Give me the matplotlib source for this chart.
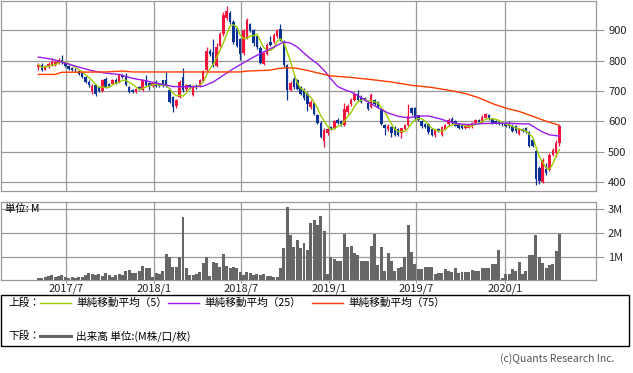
import numpy as np
import pandas as pd
import matplotlib
matplotlib.use('Agg')
import matplotlib.pyplot as plt
import matplotlib.dates as mdates
from matplotlib.patches import Rectangle
from matplotlib.lines import Line2D

plt.rcParams['font.family'] = ['Noto Sans CJK JP', 'DejaVu Sans']

# ---------------- data ----------------
dates = pd.date_range('2017-05-05', periods=156, freq='7D')

opens = [778, 787, 771, 780, 785, 786, 794, 802, 793, 782, 777, 770, 767, 760, 746, 731, 700, 719, 712, 700,
         740, 724, 725, 736, 730, 752, 748, 714, 702, 698, 712, 703, 736, 727, 718, 730, 724, 735, 738, 704,
         680, 650, 681, 745, 706, 720, 686, 718, 716, 734, 769, 832, 830, 782, 850, 887, 940, 957, 927, 908,
         870, 825, 876, 922, 900, 880, 842, 790, 823, 862, 862, 880, 905, 862, 785, 705, 740, 735, 712, 705,
         692, 646, 662, 622, 596, 535, 562, 583, 578, 605, 600, 588, 630, 658, 670, 689, 682, 676, 662, 648,
         670, 665, 640, 588, 576, 582, 580, 575, 562, 575, 588, 643, 643, 620, 602, 590, 590, 575, 555, 575,
         555, 575, 590, 608, 600, 590, 588, 578, 580, 583, 595, 605, 598, 612, 620, 608, 602, 598, 594, 594,
         596, 585, 585, 558, 574, 578, 566, 540, 502, 447, 400, 442, 440, 490, 497, 530]
highs = [792, 792, 785, 795, 810, 800, 808, 818, 797, 785, 780, 775, 770, 764, 750, 735, 722, 722, 716, 740,
         745, 728, 740, 742, 756, 755, 760, 718, 706, 710, 716, 740, 752, 730, 730, 735, 728, 738, 763, 710,
         684, 675, 735, 775, 725, 725, 720, 722, 740, 770, 845, 840, 870, 860, 895, 960, 980, 965, 935, 912,
         875, 905, 940, 925, 905, 885, 848, 828, 860, 880, 892, 905, 922, 868, 790, 732, 748, 740, 716, 710,
         697, 670, 665, 625, 600, 578, 580, 586, 604, 610, 605, 662, 658, 676, 697, 705, 688, 680, 666, 693,
         674, 668, 645, 592, 590, 585, 584, 578, 580, 592, 657, 648, 646, 622, 605, 594, 594, 578, 576, 580,
         585, 592, 610, 615, 604, 594, 592, 590, 592, 598, 608, 608, 620, 628, 625, 612, 605, 602, 598, 598,
         600, 590, 588, 577, 578, 582, 570, 545, 505, 452, 480, 464, 495, 512, 540, 588]
lows = [770, 765, 768, 776, 782, 784, 790, 790, 778, 770, 766, 762, 752, 744, 727, 715, 692, 684, 696, 698,
        710, 712, 722, 725, 728, 742, 718, 695, 694, 694, 702, 700, 717, 702, 715, 712, 713, 715, 715, 660,
        632, 645, 676, 698, 700, 708, 684, 708, 712, 730, 765, 815, 780, 778, 845, 882, 935, 920, 855, 845,
        802, 820, 870, 895, 850, 840, 790, 785, 818, 848, 858, 875, 864, 780, 672, 700, 708, 705, 688, 672,
        635, 640, 620, 590, 545, 517, 556, 572, 574, 592, 585, 585, 626, 652, 666, 667, 662, 668, 637, 645,
        654, 644, 588, 555, 570, 550, 552, 552, 545, 570, 585, 622, 605, 600, 580, 578, 560, 552, 550, 565,
        552, 572, 586, 592, 584, 575, 575, 575, 578, 580, 592, 595, 595, 610, 604, 592, 590, 588, 586, 582,
        580, 565, 562, 555, 565, 563, 515, 515, 391, 395, 398, 425, 438, 486, 484, 518]
closes = [787, 770, 781, 790, 796, 797, 803, 795, 783, 774, 770, 768, 756, 748, 730, 721, 718, 692, 700, 738,
          712, 716, 736, 728, 752, 745, 720, 698, 698, 708, 706, 736, 720, 718, 726, 716, 716, 720, 718, 665,
          648, 670, 730, 702, 720, 714, 716, 712, 735, 767, 832, 823, 785, 845, 887, 952, 963, 927, 862, 850,
          823, 902, 933, 900, 857, 845, 793, 824, 853, 853, 884, 902, 868, 785, 705, 727, 712, 708, 692, 676,
          657, 665, 626, 596, 550, 572, 575, 576, 600, 596, 590, 640, 652, 670, 690, 670, 665, 672, 640, 688,
          658, 648, 592, 578, 584, 563, 555, 555, 578, 588, 618, 627, 610, 604, 585, 582, 566, 555, 573, 568,
          582, 588, 606, 596, 586, 578, 578, 586, 588, 595, 605, 598, 614, 625, 608, 596, 594, 592, 590, 585,
          584, 568, 567, 574, 568, 566, 520, 518, 410, 405, 474, 430, 490, 505, 528, 586]
volume_m = [0.15, 0.12, 0.19, 0.22, 0.26, 0.17, 0.22, 0.25, 0.19, 0.15, 0.17, 0.15, 0.19, 0.19, 0.26, 0.36,
            0.31, 0.26, 0.29, 0.22, 0.33, 0.25, 0.19, 0.26, 0.31, 0.26, 0.43, 0.47, 0.36, 0.36, 0.44, 0.64,
            0.57, 0.56, 0.19, 0.36, 0.31, 0.44, 1.14, 1.03, 0.61, 0.61, 1.00, 2.67, 0.54, 0.26, 0.26, 0.31,
            0.38, 0.75, 1.03, 0.24, 0.79, 0.75, 0.58, 1.14, 0.65, 0.54, 0.61, 0.54, 0.40, 0.26, 0.40, 0.33,
            0.26, 0.31, 0.26, 0.31, 0.22, 0.22, 0.19, 0.17, 0.54, 1.38, 3.08, 1.93, 1.44, 1.72, 1.38, 1.58,
            1.31, 2.42, 2.56, 2.35, 2.72, 2.11, 0.31, 1.00, 0.92, 0.85, 0.85, 1.97, 1.44, 1.47, 1.17, 1.10,
            0.85, 0.85, 0.85, 1.47, 1.97, 0.68, 1.44, 0.44, 1.17, 0.86, 0.44, 0.57, 0.61, 1.00, 2.35, 1.24,
            0.72, 0.50, 0.50, 0.61, 0.58, 0.61, 0.31, 0.36, 0.36, 0.50, 0.44, 0.40, 0.54, 0.36, 0.40, 0.40,
            0.40, 0.47, 0.44, 0.44, 0.54, 0.54, 0.57, 0.71, 0.71, 1.31, 0.13, 0.31, 0.31, 0.50, 0.44, 0.82,
            0.31, 0.44, 1.10, 1.10, 1.93, 1.00, 0.75, 0.54, 0.68, 0.71, 1.28, 1.97]

# moving averages (week index, value)
ma25_idx = [0, 4, 8, 12, 16, 20, 24, 28, 32, 36, 40, 45, 49, 52, 55, 58, 61, 64, 67, 70, 73, 75, 77, 79,
            81, 83, 85, 87, 89, 91, 93, 95, 98, 101, 104, 107, 110, 113, 116, 119, 122, 125, 128, 132,
            136, 140, 144, 146, 148, 150, 152, 155]
ma25_val = [812, 805, 792, 779, 767, 759, 755, 742, 734, 724, 715, 714, 716, 730, 752, 774, 793, 812, 829,
            845, 862, 858, 845, 825, 806, 790, 768, 740, 715, 705, 697, 685, 665, 645, 628, 617, 612, 618,
            618, 610, 600, 592, 590, 593, 594, 594, 592, 592, 578, 565, 556, 552]
ma75_idx = [0, 5, 7, 20, 25, 28, 40, 60, 62, 69, 71, 74, 77, 80, 83, 87, 93, 99, 105, 111, 117, 123, 127,
            131, 135, 139, 143, 147, 151, 155]
ma75_val = [755, 755, 762, 763, 766, 763, 763, 763, 766, 769, 774, 777, 775, 768, 760, 750, 745, 738, 730,
            719, 712, 701, 692, 678, 659, 644, 633, 617, 601, 587]

tick_dates = ['2017-07-01', '2018-01-01', '2018-07-01', '2019-01-01', '2019-07-01', '2020-01-01']
tick_labels = ['2017/7', '2018/1', '2018/7', '2019/1', '2019/7', '2020/1']
price_ticks = [400, 500, 600, 700, 800, 900]
vol_ticks = [1, 2, 3]
vol_labels = ['1M', '2M', '3M']

# ---------------- styling ----------------
RED = '#f5143c'
BLUE = '#0a3296'
C_MA5 = '#9ccc00'
C_MA25 = '#9a1cf0'
C_MA75 = '#ff3c00'
GRID = '#999999'
VOLC = '#666666'

W, H = 633, 373
def fx(px):
    return px / W
def fy(py):
    return 1 - py / H

fig = plt.figure(figsize=(W / 100, H / 100), dpi=100)
ax = fig.add_axes([0.0008, fy(190.7), fx(595), (190.7 - 0.6) / H])
axv = fig.add_axes([0.0008, fy(280), fx(595), (280 - 201.5) / H])

x = mdates.date2num(dates)
o = np.array(opens, float)
h = np.array(highs, float)
l = np.array(lows, float)
c = np.array(closes, float)
up = c >= o
cols = np.where(up, RED, BLUE)

ax.vlines(x, l, h, colors=cols, linewidth=0.9, zorder=3)
body = np.maximum(np.abs(c - o), 1.5)
ax.bar(x, body, bottom=np.minimum(o, c), width=5.2, color=cols, linewidth=0, zorder=3)

ma5 = pd.Series(c).rolling(5, min_periods=1).mean().values
ax.plot(x, ma5, color=C_MA5, lw=1.0, zorder=4)
ax.plot(x[ma25_idx], ma25_val, color=C_MA25, lw=1.0, zorder=4)
ax.plot(x[ma75_idx], ma75_val, color=C_MA75, lw=1.0, zorder=4)

xmin = mdates.date2num(pd.Timestamp('2017-02-15'))
xmax = mdates.date2num(pd.Timestamp('2020-07-08'))
tx = mdates.date2num(pd.to_datetime(tick_dates))

for a in (ax, axv):
    a.set_xlim(xmin, xmax)
    a.set_xticks(tx)
    a.grid(True, color=GRID, lw=0.9)
    a.set_axisbelow(True)
    for s in a.spines.values():
        s.set_color(GRID)
        s.set_linewidth(0.9)
    a.yaxis.tick_right()
    a.tick_params(axis='y', length=6, color=GRID, labelsize=8, pad=3, labelcolor='#222222')

ax.set_ylim(372, 998)
ax.set_yticks(price_ticks)
ax.tick_params(axis='x', length=0, labelbottom=False)

axv.bar(x, volume_m, width=6.2, color=VOLC, linewidth=0, zorder=3)
axv.set_ylim(0.054, 3.325)
axv.set_yticks(vol_ticks)
axv.set_yticklabels(vol_labels)
axv.set_xticklabels(tick_labels)
axv.tick_params(axis='x', length=2, color=GRID, labelsize=8, pad=0.5, labelcolor='#222222')
axv.text(0.008, 0.9, '単位: M', transform=axv.transAxes, fontsize=7.5, va='center', ha='left')

# ---------------- legend ----------------
fig.add_artist(Rectangle((fx(0.5), fy(346)), fx(628), (346 - 295) / H, transform=fig.transFigure,
                         fill=False, edgecolor='black', lw=1.0))
fs = 7.7
r1, r2 = fy(303), fy(336)
fig.text(fx(8), r1, '上段：', fontsize=fs, va='center')
fig.add_artist(Line2D([fx(40), fx(71)], [r1, r1], color=C_MA5, lw=1.0, transform=fig.transFigure))
fig.text(fx(76), r1, '単純移動平均（5）', fontsize=fs, va='center')
fig.add_artist(Line2D([fx(168), fx(199)], [r1, r1], color=C_MA25, lw=1.0, transform=fig.transFigure))
fig.text(fx(204), r1, '単純移動平均（25）', fontsize=fs, va='center')
fig.add_artist(Line2D([fx(312), fx(343)], [r1, r1], color=C_MA75, lw=1.0, transform=fig.transFigure))
fig.text(fx(348), r1, '単純移動平均（75）', fontsize=fs, va='center')
fig.text(fx(8), r2, '下段：', fontsize=fs, va='center')
fig.add_artist(Line2D([fx(40), fx(71)], [r2, r2], color=VOLC, lw=2.2, transform=fig.transFigure))
fig.text(fx(76), r2, '出来高 単位:(M株/口/枚)', fontsize=fs, va='center')

fig.text(fx(614), fy(359), '(c)Quants Research Inc.', fontsize=7.5, ha='right', va='center', color='#555555')

fig.savefig('out.png', dpi=100)
